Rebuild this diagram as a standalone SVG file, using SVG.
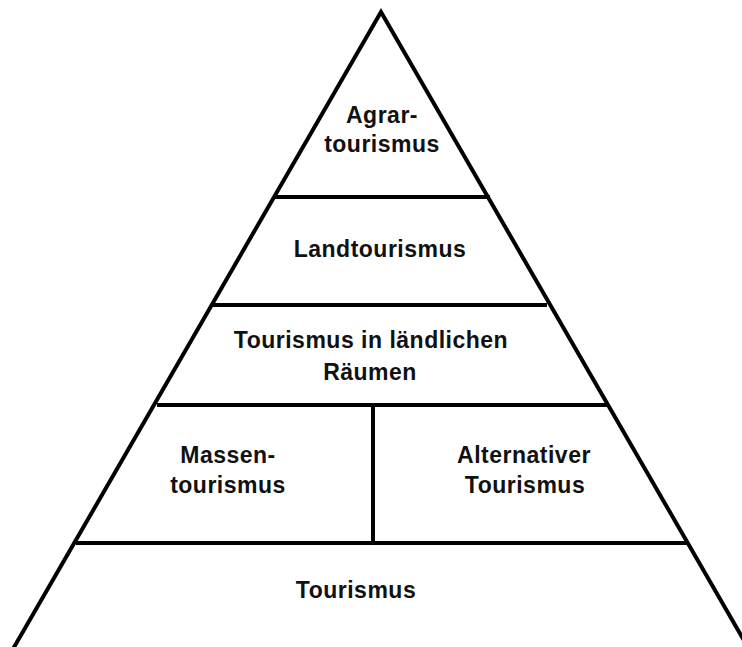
<svg xmlns="http://www.w3.org/2000/svg" width="742" height="647" viewBox="0 0 742 647">
<style>
.ln{stroke:#000;stroke-width:4;fill:none;stroke-linecap:butt}
.t{font-family:"Liberation Sans",Arial,sans-serif;font-weight:bold;font-size:23px;letter-spacing:0.5px;fill:#111;text-anchor:middle}
</style>
<rect width="742" height="647" fill="#fff"/>
<g id="connectors">
<polyline class="ln" points="13,649 381,12 749,649" stroke-linejoin="miter"/>
<line class="ln" x1="274" y1="197" x2="490" y2="197"/>
<line class="ln" x1="212" y1="305" x2="547" y2="305"/>
<line class="ln" x1="157" y1="405" x2="607" y2="405"/>
<line class="ln" x1="76" y1="543" x2="687" y2="543"/>
<line class="ln" x1="373" y1="405" x2="373" y2="543"/>
</g>
<g id="agrar"><text class="t" x="382" y="123">Agrar-</text><text class="t" x="382" y="152">tourismus</text></g>
<g id="land"><text class="t" x="380" y="257">Landtourismus</text></g>
<g id="laendlich"><text class="t" x="371" y="348">Tourismus in ländlichen</text><text class="t" x="370" y="380">Räumen</text></g>
<g id="massen"><text class="t" x="228" y="463">Massen-</text><text class="t" x="228" y="493">tourismus</text></g>
<g id="alternativ"><text class="t" x="524" y="463">Alternativer</text><text class="t" x="525" y="493">Tourismus</text></g>
<g id="tourismus"><text class="t" x="356" y="598">Tourismus</text></g>
</svg>
